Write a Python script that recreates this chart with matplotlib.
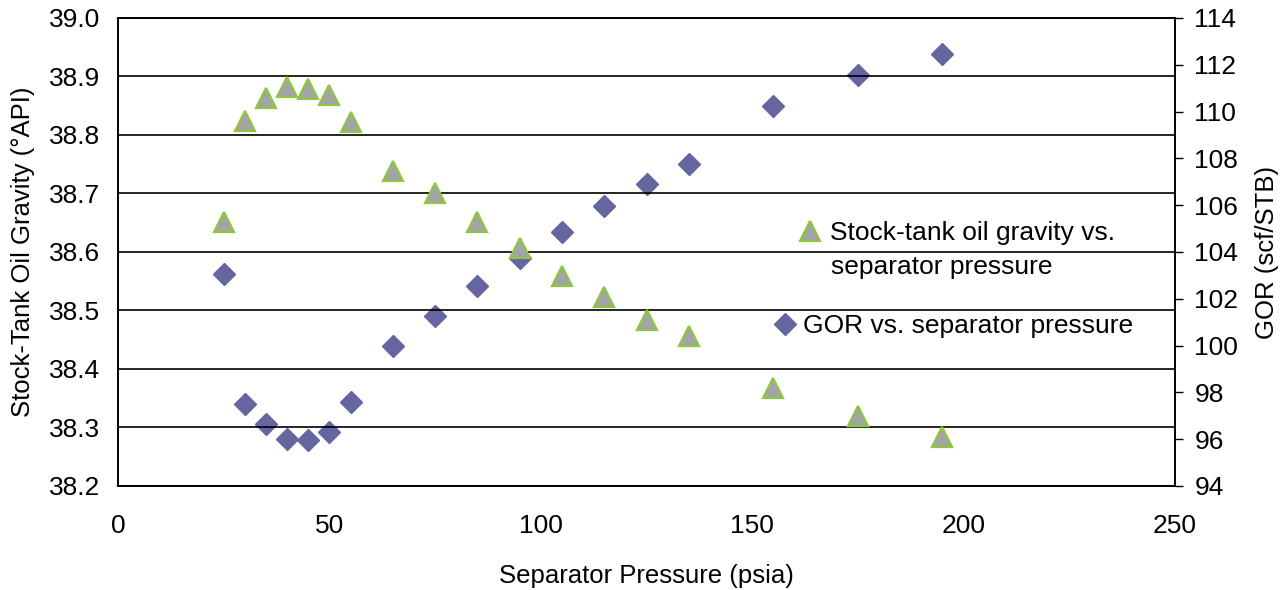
import matplotlib.pyplot as plt

plt.rcParams['font.family'] = ['Liberation Sans', 'DejaVu Sans']

pressure = [25, 30, 35, 40, 45, 50, 55, 65, 75, 85, 95, 105, 115, 125, 135, 155, 175, 195]
api = [38.651, 38.824, 38.863, 38.882, 38.879, 38.868, 38.822, 38.738, 38.700,
       38.651, 38.607, 38.559, 38.523, 38.484, 38.456, 38.367, 38.320, 38.284]
gor = [103.06, 97.5, 96.65, 96.0, 95.97, 96.3, 97.6, 99.98, 101.26,
       102.55, 103.74, 104.85, 105.97, 106.9, 107.76, 110.24, 111.56, 112.46]

W, H = 1288, 590
fig = plt.figure(figsize=(W / 100, H / 100), dpi=100)
ax = fig.add_axes([0.0916, 0.1763, 0.8207, 0.7932])
ax2 = ax.twinx()

ax.set_zorder(ax2.get_zorder() + 1)
ax.patch.set_visible(False)

l1, = ax.plot(pressure, api, linestyle='none', marker='^', markersize=15,
              markerfacecolor='#a3a3a8', markeredgecolor='#8dc63f', markeredgewidth=1.6,
              label='Stock-tank oil gravity vs.')
l2, = ax2.plot(pressure, gor, linestyle='none', marker='D', markersize=11,
               color='#65659f', label='GOR vs. separator pressure')

ax.set_xlim(0, 250)
ax.set_ylim(38.2, 39.0)
ax2.set_ylim(94, 114)
ax.set_xticks([0, 50, 100, 150, 200, 250])
ax.set_yticks([38.2, 38.3, 38.4, 38.5, 38.6, 38.7, 38.8, 38.9, 39.0])
ax2.set_yticks(range(94, 115, 2))

ax.grid(axis='y', color='black', linewidth=1.2)
ax.tick_params(axis='x', length=0, pad=20, labelsize=19)
ax.tick_params(axis='y', length=0, pad=13, labelsize=19)
ax2.tick_params(axis='y', direction='out', length=6, width=1, pad=8, labelsize=19)
for a in (ax, ax2):
    for s in a.spines.values():
        s.set_linewidth(1.2)

ax.set_xlabel('Separator Pressure (psia)', fontsize=18.5, labelpad=19)
ax.set_ylabel('Stock-Tank Oil Gravity (°API)', fontsize=18.5, labelpad=10)
ax2.set_ylabel('GOR (scf/STB)', fontsize=18.5, labelpad=12)

# legend entries placed like the original (handles not aligned)
leg1 = fig.legend(handles=[l1], loc='center left', bbox_to_anchor=(799.5 / W, 1 - 233 / H),
                  frameon=False, fontsize=19, borderpad=0, borderaxespad=0,
                  handlelength=0.8, handletextpad=0.36)
fig.text(831 / W, 1 - 267 / H, 'separator pressure', fontsize=19, va='center', ha='left')
leg2 = fig.legend(handles=[l2], loc='center left', bbox_to_anchor=(774.5 / W, 1 - 326 / H),
                  frameon=False, fontsize=19, borderpad=0, borderaxespad=0,
                  handlelength=0.8, handletextpad=0.28)

fig.savefig('out.png', dpi=100)
